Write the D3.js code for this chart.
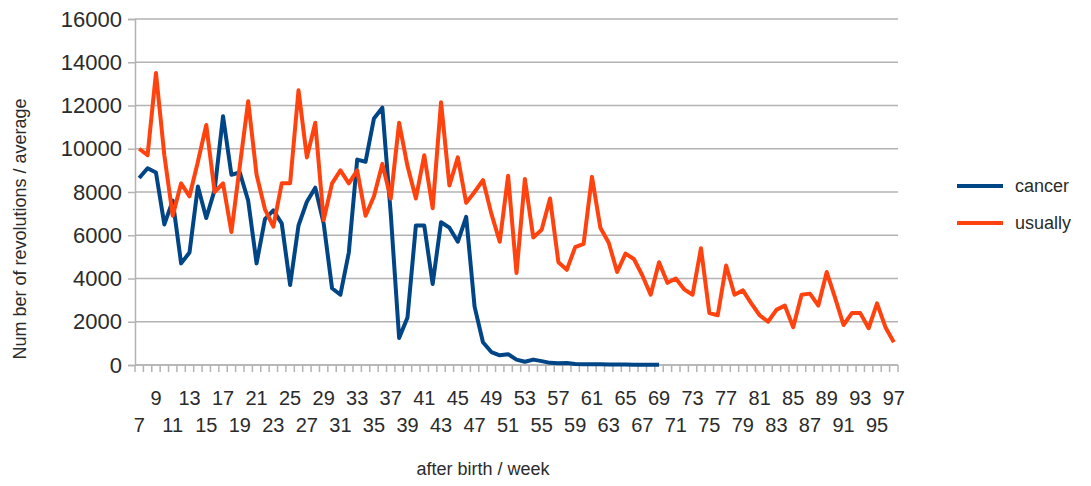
<!DOCTYPE html>
<html>
<head>
<meta charset="utf-8">
<script src="https://cdn.jsdelivr.net/npm/d3@7"></script>
<style>
  body { margin: 0; background: #fff; }
  text { font-family: "Liberation Sans", Arial, sans-serif; fill: #2b2b2b; }
</style>
</head>
<body>
<svg id="chart" width="1091" height="486"></svg>
<script>
// weeks after birth (categories)
var weeks = [7, 8, 9, 10, 11, 12, 13, 14, 15, 16, 17, 18, 19, 20, 21, 22, 23, 24, 25, 26,
  27, 28, 29, 30, 31, 32, 33, 34, 35, 36, 37, 38, 39, 40, 41, 42, 43, 44, 45, 46,
  47, 48, 49, 50, 51, 52, 53, 54, 55, 56, 57, 58, 59, 60, 61, 62, 63, 64, 65, 66,
  67, 68, 69, 70, 71, 72, 73, 74, 75, 76, 77, 78, 79, 80, 81, 82, 83, 84, 85, 86,
  87, 88, 89, 90, 91, 92, 93, 94, 95, 96, 97];

// cancer: weeks 7 - 69
var cancer = [8650, 9100, 8900, 6500, 7600, 4700, 5200, 8250, 6800, 8100,
  11500, 8800, 8900, 7600, 4700, 6750, 7150, 6550, 3700, 6450,
  7550, 8200, 6550, 3550, 3250, 5200, 9500, 9400, 11400, 11900,
  7000, 1250, 2200, 6450, 6450, 3750, 6600, 6350, 5700, 6850,
  2700, 1050, 600, 450, 500, 250, 150, 250, 180, 100,
  80, 90, 50, 40, 30, 30, 20, 20, 20, 10,
  10, 10, 10];

// usually: weeks 7 - 97
var usually = [10000, 9700, 13500, 9700, 6900, 8400, 7800, 9400, 11100, 8000,
  8400, 6150, 9200, 12200, 8800, 7200, 6400, 8400, 8400, 12700,
  9600, 11200, 6700, 8400, 9000, 8400, 9000, 6900, 7800, 9300,
  7700, 11200, 9200, 7700, 9700, 7250, 12150, 8300, 9600, 7500,
  8000, 8550, 7000, 5700, 8750, 4250, 8600, 5900, 6250, 7700,
  4750, 4400, 5450, 5600, 8700, 6350, 5650, 4300, 5150, 4900,
  4150, 3250, 4750, 3800, 4000, 3500, 3250, 5400, 2400, 2300,
  4600, 3250, 3450, 2850, 2300, 2000, 2550, 2750, 1750, 3250,
  3300, 2750, 4300, 3100, 1850, 2400, 2400, 1700, 2850, 1750,
  1050];

var yTicks = [0, 2000, 4000, 6000, 8000, 10000, 12000, 14000, 16000];

var seriesNames = ["cancer", "usually"];
var seriesColors = ["#004586", "#ff420e"];

var svg = d3.select("#chart"),
    margin = {top: 19, right: 193, bottom: 121, left: 135},
    width = +svg.attr("width") - margin.left - margin.right,
    height = +svg.attr("height") - margin.top - margin.bottom;

var x = d3.scaleBand().domain(weeks).range([0, width]).padding(0),
    y = d3.scaleLinear().domain([0, 16000]).range([height, 0]);

var g = svg.append("g")
    .attr("transform", "translate(" + margin.left + "," + margin.top + ")");

// horizontal grid
g.append("g")
    .selectAll("line")
    .data(yTicks)
  .enter().append("line")
    .attr("x1", 0)
    .attr("x2", width)
    .attr("y1", function(d) { return y(d); })
    .attr("y2", function(d) { return y(d); })
    .attr("stroke", "#b3b3b3")
    .attr("stroke-width", 1.5);

// y axis
var yAxis = g.append("g")
    .call(d3.axisLeft(y).tickValues(yTicks).tickSize(7).tickPadding(6).tickFormat(d3.format("d")));
yAxis.select(".domain").attr("stroke", "#b3b3b3").attr("stroke-width", 1.5);
yAxis.selectAll(".tick line").attr("stroke", "#b3b3b3").attr("stroke-width", 1.5);
yAxis.selectAll(".tick text")
    .style("font-size", "22px")
    .style("font-family", "Liberation Sans, Arial, sans-serif")
    .attr("fill", "#2b2b2b");

// x axis: ticks at category boundaries
var xa = g.append("g").attr("transform", "translate(0," + height + ")");
xa.append("line")
    .attr("x1", 0).attr("x2", width)
    .attr("stroke", "#b3b3b3").attr("stroke-width", 1.5);
xa.selectAll(".xtick")
    .data(weeks.concat(["end"]))
  .enter().append("line")
    .attr("class", "xtick")
    .attr("x1", function(d) { return d === "end" ? width : x(d); })
    .attr("x2", function(d) { return d === "end" ? width : x(d); })
    .attr("y1", 0)
    .attr("y2", 7)
    .attr("stroke", "#b3b3b3")
    .attr("stroke-width", 1.5);

// staggered labels, every second week
xa.selectAll(".xlabel")
    .data(weeks.filter(function(d, i) { return i % 2 === 0; }))
  .enter().append("text")
    .attr("class", "xlabel")
    .attr("x", function(d) { return x(d) + x.bandwidth() / 2; })
    .attr("y", function(d, i) { return i % 2 === 0 ? 67 : 40; })
    .attr("text-anchor", "middle")
    .style("font-size", "20px")
    .text(function(d) { return d; });

// axis titles
svg.append("text")
    .attr("x", 483)
    .attr("y", 475)
    .attr("text-anchor", "middle")
    .style("font-size", "18px")
    .text("after birth / week");

svg.append("text")
    .attr("transform", "translate(26,229) rotate(-90)")
    .attr("text-anchor", "middle")
    .style("font-size", "18px")
    .text("Num ber of revolutions / average");

// lines
var line = d3.line()
    .x(function(d) { return x(d.week) + x.bandwidth() / 2; })
    .y(function(d) { return y(d.value); });

[cancer, usually].forEach(function(vals, s) {
  var pts = vals.map(function(v, i) { return {week: weeks[i], value: v}; });
  g.append("path")
      .datum(pts)
      .attr("fill", "none")
      .attr("stroke", seriesColors[s])
      .attr("stroke-width", 4)
      .attr("stroke-linejoin", "round")
      .attr("d", line);
});

// legend
var legend = svg.append("g").attr("transform", "translate(957,186)");
seriesNames.forEach(function(name, i) {
  legend.append("line")
      .attr("x1", 0).attr("x2", 46)
      .attr("y1", i * 37).attr("y2", i * 37)
      .attr("stroke", seriesColors[i])
      .attr("stroke-width", 4);
  legend.append("text")
      .attr("x", 58)
      .attr("y", i * 37 + 6)
      .style("font-size", "18px")
      .text(name);
});
</script>
</body>
</html>
